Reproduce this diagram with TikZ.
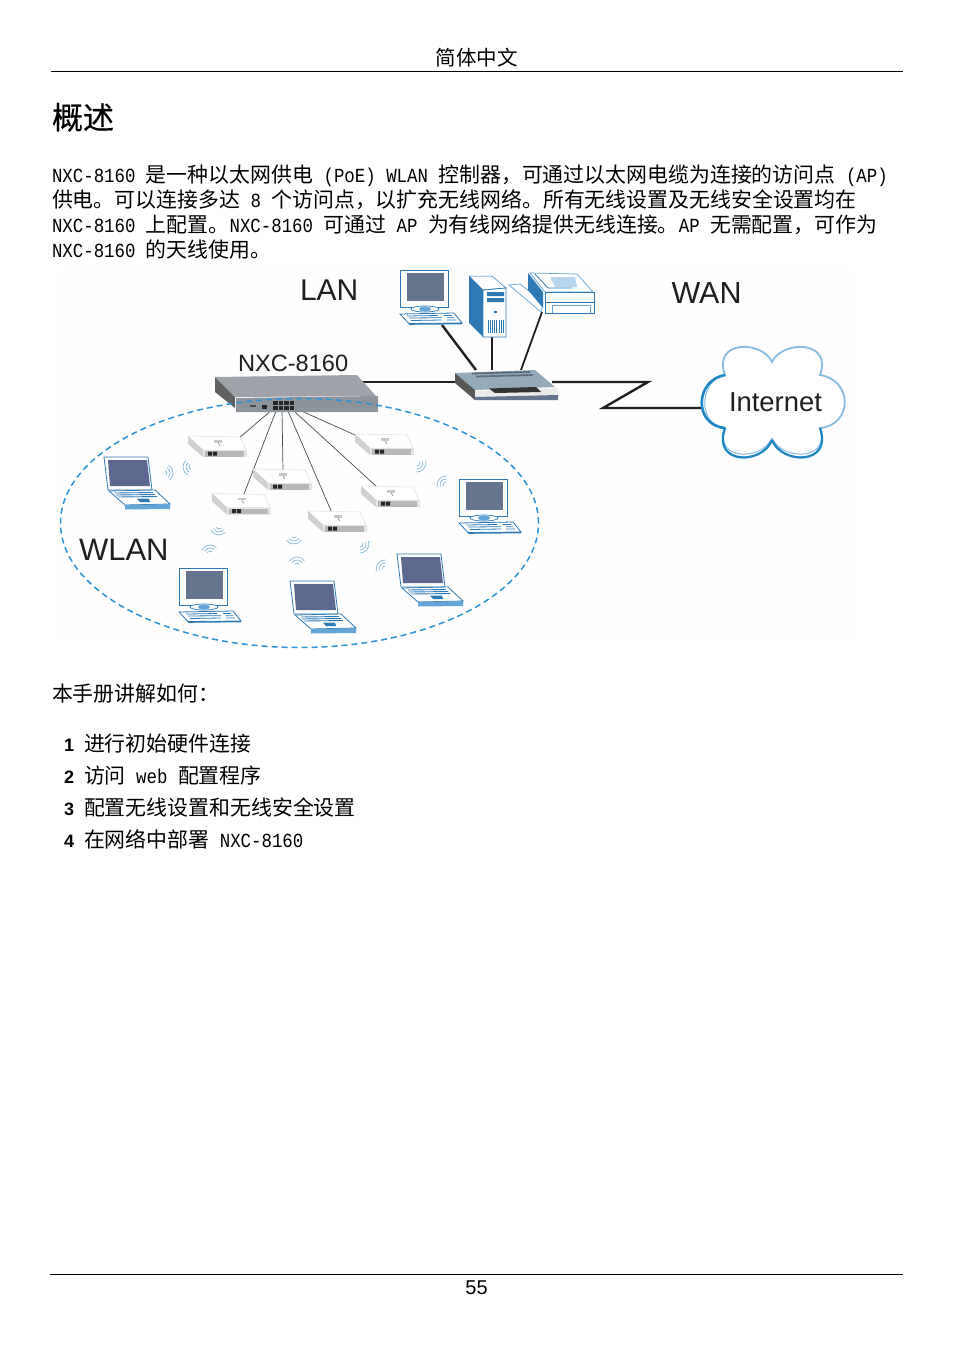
\documentclass[tikz,border=0pt]{standalone}
\usepackage{fontspec}
\setmainfont{Liberation Sans}
\newfontfamily\cjk{Noto Sans CJK SC}
\newfontfamily\cjktitle[FakeBold=0.5]{Noto Sans CJK SC}
\newfontfamily\latm[FakeStretch=0.87]{Liberation Mono}
\usetikzlibrary{shapes.geometric}
\definecolor{devblue}{HTML}{2E78B4}
\definecolor{lightblue}{HTML}{62A5D6}
\definecolor{moncol}{HTML}{65758D}
\definecolor{lapcol}{HTML}{5C688F}
\definecolor{wlanblue}{HTML}{2B93D6}
\definecolor{wavecol}{HTML}{86B8D8}
\definecolor{cloudlight}{HTML}{86BCDF}
\definecolor{clouddark}{HTML}{1F86C6}
\definecolor{inkline}{HTML}{221E1F}
\definecolor{swtop}{HTML}{9FA2A8}
\definecolor{swfront}{HTML}{8E949C}
\definecolor{hubtop}{HTML}{93ABB9}
% text helpers
\newcommand{\LM}[1]{{\latm\fontsize{20pt}{24pt}\selectfont #1}}
\newcommand{\fwc}{\char"FF0C\relax}
\newcommand{\fwk}{\char"FF1A\relax}
\tikzset{
  x=1pt,y=1pt,
  line/.style={anchor=base west,inner sep=0pt,outer sep=0pt,font=\cjk\fontsize{20.9pt}{24pt}\selectfont},
  biglabel/.style={inner sep=0pt,outer sep=0pt,anchor=base west,text=inkline},
  lanwire/.style={draw=inkline,line width=2.4pt},
  apwire/.style={draw=black!70,line width=0.7pt},
  wave/.style={draw=wavecol,line width=0.7pt},
  pics/monitor/.style={code={
    \fill[white] (0,0) rectangle (48,-37);
    \draw[devblue,line width=0.9pt] (0.7,-0.5) rectangle (48,-37);
    \fill[moncol] (7,-3.3) rectangle (44,-31);
    \fill[white,draw=devblue,line width=0.7pt] (25,-39) ellipse (14 and 3);
    \fill[lightblue] (25,-39) ellipse (6 and 2.6);
    \fill[white,draw=devblue,line width=0.8pt] (0,-44) -- (54,-43) -- (62,-53) -- (9,-53.5) -- cycle;
    \fill[devblue] (9,-53.5) -- (62,-53) -- (62,-54.3) -- (9,-54.8) -- cycle;
    \draw[devblue,line width=0.8pt] (7,-46) -- (38,-45.5) (44,-45.5) -- (52,-45.5)
      (9,-48) -- (42,-47.7) (47,-47.7) -- (54,-47.7)
      (11,-50.5) -- (42,-50) (47,-50) -- (56,-50);
  }},
  pics/laptop/.style={code={
    \fill[white,draw=devblue,line width=0.8pt] (0,0) -- (44,0) -- (48,-33) -- (4,-33) -- cycle;
    \fill[lapcol] (4,-3) -- (43,-3) -- (46,-29) -- (6,-29) -- cycle;
    \fill[white,draw=devblue,line width=0.8pt] (5,-34) -- (51,-33) -- (66,-47) -- (21,-48) -- cycle;
    \fill[lightblue] (21,-48) -- (66,-47) -- (66,-52) -- (21,-52.5) -- cycle;
    \draw[devblue,line width=0.9pt] (11,-36) -- (49,-35.5) (12,-38) -- (51,-37.5) (14,-40) -- (53,-39.5);
    \fill[devblue] (33,-41.5) -- (45,-41.5) -- (46,-45) -- (36,-45) -- cycle;
  }},
  pics/apbox/.style={code={
    \fill[white,draw=black!12,line width=0.5pt] (0,1) -- (52,0) -- (58,-13) -- (15,-13) -- cycle;
    \fill[black!18] (0,1) -- (15,-13) -- (15,-20) -- (0,-7) -- cycle;
    \fill[black!10] (15,-13) rectangle (59,-20);
    \fill[black!28] (17,-14) rectangle (56,-19.5);
    \fill[black!85] (20,-14.7) rectangle (24,-18.5) (25,-14.7) rectangle (29,-18.5);
    \fill[black!22] (26,-3) -- (34,-3) -- (34,-5.5) -- (26,-5.5) -- cycle;
    \draw[black!55,line width=0.5pt] (30,-6) -- (32,-9);
  }},
  pics/wavemark/.style={code={
    \foreach \r in {3,6,9} {
      \draw[wave] (55:\r pt) arc[start angle=55,end angle=-55,radius=\r pt];
    }
  }},
}
\begin{document}
\begin{tikzpicture}
\useasboundingbox (0,0) rectangle (954,-1352);
\fill[white] (0,0) rectangle (954,-1352);
\fill[black!0.4] (60,-270) rectangle (850,-640);
% --- page furniture
\coordinate (rulel) at (51,-71); \coordinate (ruler) at (903,-71);
\draw[black,line width=0.9pt] (rulel) -- (ruler);
\node[inner sep=0pt,anchor=base,font=\cjk\fontsize{20.5pt}{24pt}\selectfont] (hdr) at (476.5,-65.5) {简体中文};
\node[line,font=\cjktitle\fontsize{31pt}{36pt}\selectfont] (title) at (52,-129) {概述};
\node[line] (l1) at (52,-182) {\LM{NXC-8160 }是一种以太网供电\LM{ (PoE) WLAN }控制器\fwc 可通过以太网电缆为连接的访问点\LM{ (AP)}};
\node[line] (l2) at (52,-207) {供电。可以连接多达\LM{ 8 }个访问点\fwc 以扩充无线网络。所有无线设置及无线安全设置均在};
\node[line] (l3) at (52,-232) {\LM{NXC-8160 }上配置。\LM{NXC-8160 }可通过\LM{ AP }为有线网络提供无线连接。\LM{AP }无需配置\fwc 可作为};
\node[line] (l4) at (52,-257) {\LM{NXC-8160 }的天线使用。};
\node[line] (m0) at (52,-701) {本手册讲解如何\fwk};
\node[line,font=\bfseries\fontsize{18pt}{20pt}\selectfont] (n1) at (64,-751) {1};
\node[line] (t1) at (84,-751) {进行初始硬件连接};
\node[line,font=\bfseries\fontsize{18pt}{20pt}\selectfont] (n2) at (64,-783) {2};
\node[line] (t2) at (84,-783) {访问\LM{ web }配置程序};
\node[line,font=\bfseries\fontsize{18pt}{20pt}\selectfont] (n3) at (64,-815) {3};
\node[line] (t3) at (84,-815) {配置无线设置和无线安全设置};
\node[line,font=\bfseries\fontsize{18pt}{20pt}\selectfont] (n4) at (64,-847) {4};
\node[line] (t4) at (84,-847) {在网络中部署\LM{ NXC-8160}};
\coordinate (footl) at (50,-1274); \coordinate (footr) at (903,-1274);
\draw[black,line width=0.9pt] (footl) -- (footr);
\node[inner sep=0pt,anchor=base,font=\fontsize{20pt}{24pt}\selectfont] (pg) at (476.5,-1294) {55};
% --- diagram labels
\node[biglabel,font=\fontsize{30pt}{36pt}\selectfont] (lan) at (300,-300.5) {LAN};
\node[biglabel,font=\fontsize{30.5pt}{36pt}\selectfont] (wan) at (671.5,-303.5) {WAN};
\node[biglabel,font=\fontsize{31pt}{36pt}\selectfont] (wl) at (79,-560) {WLAN};
\node[biglabel,font=\fontsize{23.6pt}{26pt}\selectfont] (nxc) at (238,-371) {NXC-8160};
% --- connection points
\coordinate (swr) at (357,-382);
\coordinate (hubl) at (456,-382);
\coordinate (hubr) at (552,-382);
\coordinate (z1) at (648,-382);
\coordinate (z2) at (603,-408);
\coordinate (cloudl) at (702,-408);
\coordinate (h1) at (476,-370);
\coordinate (h2) at (492,-370);
\coordinate (h3) at (521,-370);
\coordinate (pcin) at (442,-325);
\coordinate (towin) at (492,-337);
\coordinate (prin) at (542,-312);
\foreach \n/\x/\y in {p1/273/409,p2/276/411,p3/282/410,p4/288/411,p5/295/412,p6/297/409,
   a1/239/438,a2/244/494,a3/283/471,a4/332/513,a5/377/487,a6/355/435} {
  \coordinate (\n) at (\x,-\y);
}
% wires
\draw[lanwire] (swr) -- (hubl);
\draw[lanwire,line join=miter] (hubr) -- (z1) -- (z2) -- (cloudl);
\draw[lanwire] (pcin) -- (h1);
\draw[lanwire,line width=1.6pt] (towin) -- (h2);
\draw[lanwire,line width=1.8pt] (prin) -- (h3);
\draw[apwire] (p1) -- (a1);
\draw[apwire] (p2) -- (a2);
\draw[apwire] (p3) -- (a3);
\draw[apwire] (p4) -- (a4);
\draw[apwire] (p5) -- (a5);
\draw[apwire] (p6) -- (a6);
% switch NXC-8160
\fill[swtop] (215,-377) -- (357,-375) -- (376,-396) -- (235,-397) -- cycle;
\fill[black!62] (215,-377) -- (235,-397) -- (235,-408) -- (215,-392) -- cycle;
\fill[swfront] (236,-398) -- (378,-396) -- (378,-412) -- (236,-412) -- cycle;
\fill[black!70] (250,-405) rectangle (256,-407);
\fill[black!85] (262,-405) rectangle (267,-409);
\foreach \i in {0,1,2,3} {
  \fill[black!85] (273+\i*5.6,-401) rectangle (277.6+\i*5.6,-405);
  \fill[black!85] (273+\i*5.6,-406) rectangle (277.6+\i*5.6,-410);
}
% hub
\fill[hubtop] (455,-373) -- (535,-370) -- (555,-387) -- (475,-390) -- cycle;
\fill[black!65] (455,-373) -- (475,-390) -- (475,-400) -- (455,-383) -- cycle;
\fill[black!8] (475,-391) -- (558,-388) -- (558,-400) -- (475,-400) -- cycle;
\fill[moncol] (475,-397) -- (558,-395) -- (558,-400) -- (475,-400) -- cycle;
\fill[black!80] (489,-388.5) -- (536,-387) -- (541,-392) -- (495,-393) -- cycle;
\draw[moncol!80!black,line width=1.8pt,dash pattern=on 1pt off 0.5pt] (472,-373.5) -- (530,-372) (476,-376.5) -- (533,-375);
% LAN devices
\pic at (400,-270) {monitor};
% tower
\fill[devblue] (469,-276) -- (483,-290) -- (483,-337) -- (469,-323) -- cycle;
\fill[white,draw=devblue,line width=0.5pt] (469,-276) -- (492,-276) -- (506,-288) -- (483,-290) -- cycle;
\fill[white,draw=devblue,line width=0.8pt] (483,-290) -- (506,-288) -- (506,-337) -- (483,-337) -- cycle;
\fill[devblue] (487,-292) rectangle (504,-296) (487,-298) rectangle (504,-302);
\fill[devblue] (494,-311) rectangle (497,-313);
\foreach \i in {0,...,7} { \fill[devblue] (488+\i*2.1,-320) rectangle (489+\i*2.1,-333); }
% printer
\fill[white,draw=lightblue,line width=0.7pt] (509,-285) -- (520,-284) -- (543,-302) -- (541,-312) -- cycle;
\fill[devblue] (528,-273) -- (543,-292) -- (543,-308) -- (528,-290) -- cycle;
\fill[white,draw=lightblue,line width=0.7pt] (530,-273) -- (577,-274) -- (593,-292) -- (545,-292) -- cycle;
\fill[lightblue!45] (550,-277) -- (575,-277) -- (577,-287) -- (555,-287) -- cycle;
\draw[devblue,line width=0.8pt] (535,-274) -- (548,-288) -- (572,-288);
\fill[white,draw=devblue,line width=0.8pt] (545,-292) rectangle (594,-313);
\draw[devblue,line width=0.7pt] (545,-302) -- (594,-302);
\draw[lightblue,line width=0.7pt] (552,-313) -- (552,-305) -- (590,-305) -- (590,-313);
% access points
\pic at (188,-437) {apbox};
\pic at (355,-435) {apbox};
\pic at (253,-470) {apbox};
\pic at (212,-494.5) {apbox};
\pic at (361,-487) {apbox};
\pic at (308,-512) {apbox};
% clients
\pic at (104,-457) {laptop};
\pic at (290,-581) {laptop};
\pic at (397,-554) {laptop};
\pic at (459,-479) {monitor};
\pic at (179,-568) {monitor};
% radio marks
\pic[rotate=5] at (164,-473) {wavemark};
\pic[rotate=190] at (192,-467) {wavemark};
\pic[rotate=-40] at (417,-463) {wavemark};
\pic[rotate=140] at (446,-485) {wavemark};
\pic[rotate=260] at (219,-526) {wavemark};
\pic[rotate=100] at (210,-554) {wavemark};
\pic[rotate=270] at (294,-535) {wavemark};
\pic[rotate=90] at (297,-566) {wavemark};
\pic[rotate=-35] at (360,-544) {wavemark};
\pic[rotate=140] at (385,-569) {wavemark};
% WLAN boundary
\node[ellipse,draw=wlanblue,line width=1.5pt,dash pattern=on 6pt off 4pt,minimum width=478pt,minimum height=249pt,inner sep=0pt] (wlan) at (299.5,-523) {};
% cloud
\fill[white,draw=cloudlight,line width=1.8pt]
  (772,-362) .. controls (762,-340) and (712,-340) .. (725,-375)
  .. controls (695,-380) and (693,-425) .. (725,-428)
  .. controls (712,-465) and (762,-465) .. (772,-440)
  .. controls (782,-465) and (833,-465) .. (820,-428)
  .. controls (853,-425) and (853,-380) .. (820,-375)
  .. controls (833,-340) and (782,-340) .. (772,-362) -- cycle;
\draw[cloudlight,line width=1pt] (725,-375) .. controls (699,-380) and (697,-425) .. (725,-428);
\draw[cloudlight,line width=1pt] (725,-428) .. controls (714,-461) and (762,-461) .. (772,-438);
\draw[cloudlight,line width=1pt] (772,-438) .. controls (782,-461) and (831,-461) .. (820,-428);
\draw[clouddark,line width=2.6pt] (725,-375) .. controls (695,-380) and (693,-425) .. (725,-428);
\draw[clouddark,line width=2.2pt] (725,-428) .. controls (712,-465) and (762,-465) .. (772,-440);
\draw[clouddark,line width=2.2pt] (772,-440) .. controls (782,-465) and (833,-465) .. (820,-428);
\node[biglabel,font=\fontsize{27.4pt}{32pt}\selectfont] (net) at (729,-411) {Internet};
\end{tikzpicture}
\end{document}
